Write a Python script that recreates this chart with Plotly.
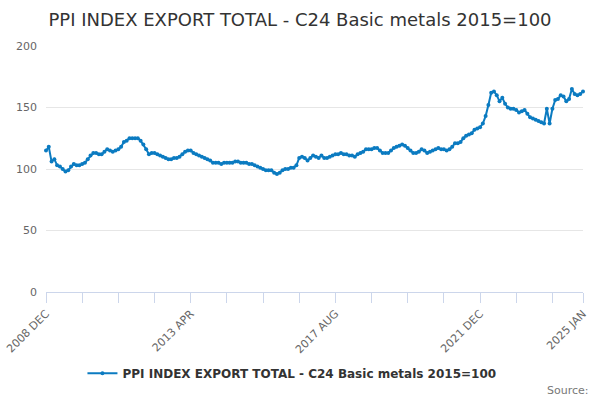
import plotly.graph_objects as go
import pandas as pd

# Monthly categories, 2008 DEC .. 2025 JAN
months = [d.strftime("%Y %b").upper() for d in pd.date_range("2008-12-01", "2025-01-01", freq="MS")]

ppi_values = [
    115, 118, 106, 108, 103, 102, 100, 98, 99, 102,
    104, 103, 103, 104, 105, 108, 111, 113, 113, 112,
    112, 114, 116, 115, 114, 115, 116, 118, 122, 123,
    125, 125, 125, 125, 123, 120, 116, 112, 113, 113,
    112, 111, 110, 109, 108, 108, 109, 109, 110, 112,
    114, 115, 115, 113, 112, 111, 110, 109, 108, 107,
    105, 105, 105, 104, 105, 105, 105, 105, 106, 106,
    105, 105, 105, 104, 104, 103, 102, 101, 100, 99,
    99, 99, 97, 96, 97, 99, 100, 100, 101, 101,
    103, 109, 110, 109, 107, 109, 111, 110, 109, 111,
    109, 109, 110, 111, 112, 112, 113, 112, 112, 111,
    111, 110, 112, 113, 114, 116, 116, 116, 117, 117,
    115, 113, 113, 113, 115, 117, 118, 119, 120, 119,
    117, 115, 113, 113, 114, 116, 115, 113, 114, 115,
    116, 117, 116, 116, 115, 116, 118, 121, 121, 122,
    125, 127, 128, 129, 132, 133, 134, 137, 143, 152,
    162, 163, 160, 155, 158, 153, 150, 149, 149, 148,
    146, 147, 148, 145, 142, 141, 140, 139, 138, 137,
    149, 137, 149, 156, 157, 160, 159, 155, 157, 165,
    161, 160, 161, 163,
]

tick_idx = [0, 13, 26, 39, 52, 65, 78, 91, 104, 117, 130, 143, 156, 169, 182, 193]
labelled = ["2008 DEC", "2013 APR", "2017 AUG", "2021 DEC", "2025 JAN"]

series_name = "PPI INDEX EXPORT TOTAL - C24 Basic metals 2015=100"

fig = go.Figure()
fig.add_trace(go.Scatter(
    x=months,
    y=ppi_values,
    mode="lines+markers",
    name=series_name,
    line=dict(color="#0b7bc1", width=2),
    marker=dict(color="#0b7bc1", size=4),
    cliponaxis=False,
))

tickvals = [months[i] for i in tick_idx]
ticktext = [m if m in labelled else "" for m in tickvals]

fig.update_layout(
    width=600, height=400,
    margin=dict(l=46, r=17, t=46, b=108, autoexpand=False),
    paper_bgcolor="white",
    plot_bgcolor="white",
    font=dict(family="DejaVu Sans", color="#333333"),
    title=dict(text=series_name, x=0.5, xanchor="center", y=0.952, yanchor="middle",
               font=dict(size=18, color="#333333")),
    showlegend=True,
    legend=dict(orientation="h", x=0.458, xanchor="center", y=-0.33, yanchor="middle",
                font=dict(size=12, color="#333333", weight="bold")),
    annotations=[dict(text="Source:", xref="paper", yref="paper", x=1.015, y=-0.40,
                      xanchor="right", yanchor="middle", showarrow=False,
                      font=dict(size=11, color="#777777"))],
)

fig.update_xaxes(
    type="category",
    range=[0, len(months) - 1],
    automargin=False,
    tickmode="array", tickvals=tickvals, ticktext=ticktext,
    tickangle=-45,
    ticks="outside", ticklen=10, tickcolor="#ccd6eb",
    showline=True, linecolor="#ccd6eb", linewidth=1,
    showgrid=False,
    tickfont=dict(size=11, color="#666666"),
)
fig.update_yaxes(
    range=[0, 200],
    automargin=False,
    tickvals=[0, 50, 100, 150, 200],
    gridcolor="#e6e6e6",
    zeroline=False,
    showline=False,
    tickfont=dict(size=11, color="#666666"),
    ticklabelstandoff=8,
)

fig.write_html("out.html", config={"displayModeBar": False},
               post_script="document.body.style.margin='0';")
